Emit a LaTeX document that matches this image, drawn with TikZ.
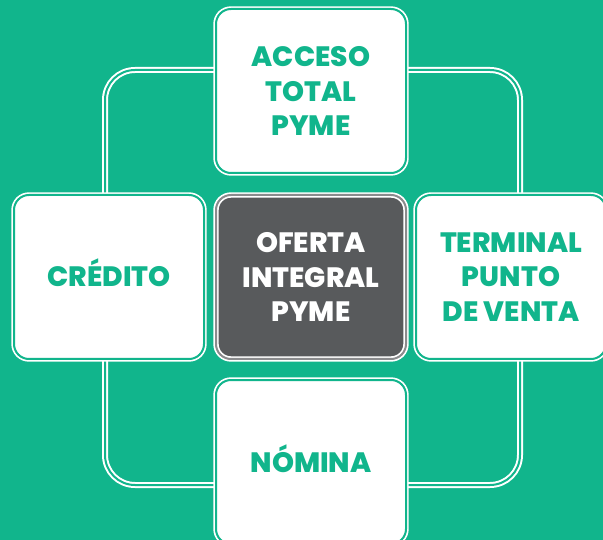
\documentclass[tikz,border=0pt]{standalone}
\usepackage{fontspec}
\setmainfont{Poppins}[BoldFont={Poppins ExtraBold}]
\definecolor{pymegreen}{RGB}{17,181,140}
\definecolor{pymegray}{RGB}{88,90,92}

\tikzset{
  ring/.style={draw=white,double=pymegreen,line width=2pt,double distance=2pt},
  card/.style={ring,line width=1.7pt,fill=white,rounded corners=15pt,minimum width=190pt,minimum height=164pt,
    align=center,text=pymegreen,font=\fontsize{28}{34.5}\selectfont\bfseries},
  oneline/.style={text height=20pt,text depth=0pt},
  core/.style={card,double=pymegray!70,fill=pymegray,text=white}
}

\begin{document}
\begin{tikzpicture}[x=1pt,y=-1pt]
\useasboundingbox (0,0) rectangle (603,540);
\fill[pymegreen] (0,0) rectangle (603,540);

% frame behind the cards
\draw[ring,rounded corners=30pt] (105,70) rectangle (520,485);

% cards
\node[card] (acceso) at (311,91) {ACCESO\\TOTAL\\PYME};
\node[card,oneline] (credito) at (109,277) {CRÉDITO};
\node[card] (terminal) at (511,277) {TERMINAL\\PUNTO\\DE VENTA};
\node[card,oneline] (nomina) at (311,462) {NÓMINA};

% center
\node[core] (oferta) at (311,277) {OFERTA\\INTEGRAL\\PYME};
\end{tikzpicture}
\end{document}
